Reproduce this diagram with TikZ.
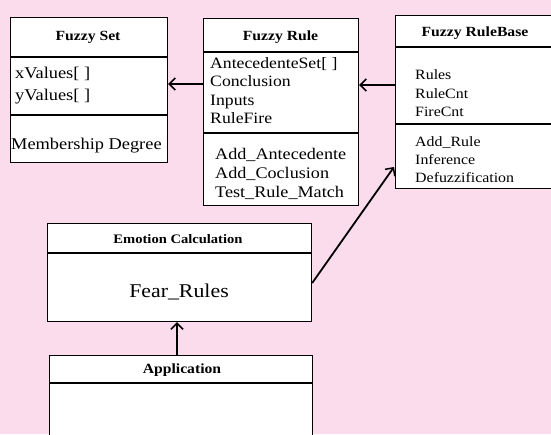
\documentclass[tikz,border=0pt]{standalone}
\usepackage{fontspec}
\setmainfont{Liberation Serif}[FakeStretch=1.12]
\usetikzlibrary{calc,arrows.meta}
\definecolor{bgpink}{RGB}{250,220,236}
\begin{document}
\begin{tikzpicture}[x=1pt,y=1pt,
  box/.style={draw=black,line width=1.2pt,fill=white,anchor=north west,inner sep=0pt},
  sep/.style={line width=1.2pt},
  ttl/.style={font=\bfseries\fontsize{14}{16}\selectfont,inner sep=0pt},
  txt/.style={anchor=west,align=left,inner sep=0pt},
  arr/.style={line width=1.8pt,-{Straight Barb[length=6pt,width=12pt,line width=1.5pt]}}]
\fill[bgpink] (0,0) rectangle (551,-434);
\useasboundingbox (0,0) rectangle (551,-434);
\clip (0,0) rectangle (551,-434);
% Fuzzy Set
\node[box,minimum width=157pt,minimum height=145pt] (fs) at (10,-17) {};
\draw[sep] ($(fs.north west)+(0,-40)$) -- ++(157,0);
\draw[sep] ($(fs.north west)+(0,-98)$) -- ++(157,0);
\node[ttl] (fst) at (88,-37) {Fuzzy Set};
\node[txt,font=\fontsize{16.4}{22}\selectfont] (fsa) at (15,-86) {xValues[ ]\\yValues[ ]};
\node[txt,font=\fontsize{16.4}{22}\selectfont] (fsm) at (11,-146) {Membership Degree};
% Fuzzy Rule
\node[box,minimum width=155pt,minimum height=187pt] (fr) at (203,-18) {};
\draw[sep] ($(fr.north west)+(0,-34)$) -- ++(155,0);
\draw[sep] ($(fr.north west)+(0,-115)$) -- ++(155,0);
\node[ttl] (frt) at (280.5,-37) {Fuzzy Rule};
\node[txt,font=\fontsize{15.8}{18.5}\selectfont] (fra) at (210,-90.5) {AntecedenteSet[ ]\\Conclusion\\Inputs\\RuleFire};
\node[txt,font=\fontsize{16.2}{19}\selectfont] (frm) at (215,-174) {Add\_Antecedente\\Add\_Coclusion\\Test\_Rule\_Match};
% Fuzzy RuleBase
\node[box,minimum width=160pt,minimum height=173pt] (rb) at (395,-15) {};
\draw[sep] ($(rb.north west)+(0,-32)$) -- ++(160,0);
\draw[sep] ($(rb.north west)+(0,-109)$) -- ++(160,0);
\node[ttl] (rbt) at (475,-33) {Fuzzy RuleBase};
\node[txt,font=\fontsize{14.2}{18.5}\selectfont] (rba) at (415,-93.5) {Rules\\RuleCnt\\FireCnt};
\node[txt,font=\fontsize{14.2}{18}\selectfont] (rbm) at (415,-160) {Add\_Rule\\Inference\\Defuzzification};
% Emotion Calculation
\node[box,minimum width=264pt,minimum height=98pt] (ec) at (47,-223) {};
\draw[sep] ($(ec.north west)+(0,-30)$) -- ++(264,0);
\node[ttl,font=\bfseries\fontsize{13}{15}\selectfont] (ect) at (178,-239) {Emotion Calculation};
\node[inner sep=0pt,font=\fontsize{19.5}{22}\selectfont] (ecf) at (179,-292) {Fear\_Rules};
% Application
\node[box,minimum width=263pt,minimum height=100pt] (ap) at (49,-355) {};
\draw[sep] ($(ap.north west)+(0,-28)$) -- ++(263,0);
\node[ttl] (apt) at (182,-370) {Application};
% connectors
\coordinate (c1) at ($(fr.north west)+(0,-66)$);
\draw[arr] (c1) -- (c1 -| fs.east);
\coordinate (c2) at ($(rb.north west)+(0,-70)$);
\draw[arr] (c2) -- (c2 -| fr.east);
\coordinate (c3) at ($(ec.north east)+(0,-60)$);
\coordinate (c4) at ($(rb.north west)+(-1,-152)$);
\draw[arr] (c3) -- (c4);
\coordinate (c5) at ($(ap.north west)+(128,0)$);
\draw[arr] (c5) -- (c5 |- ec.south);
\end{tikzpicture}
\end{document}
